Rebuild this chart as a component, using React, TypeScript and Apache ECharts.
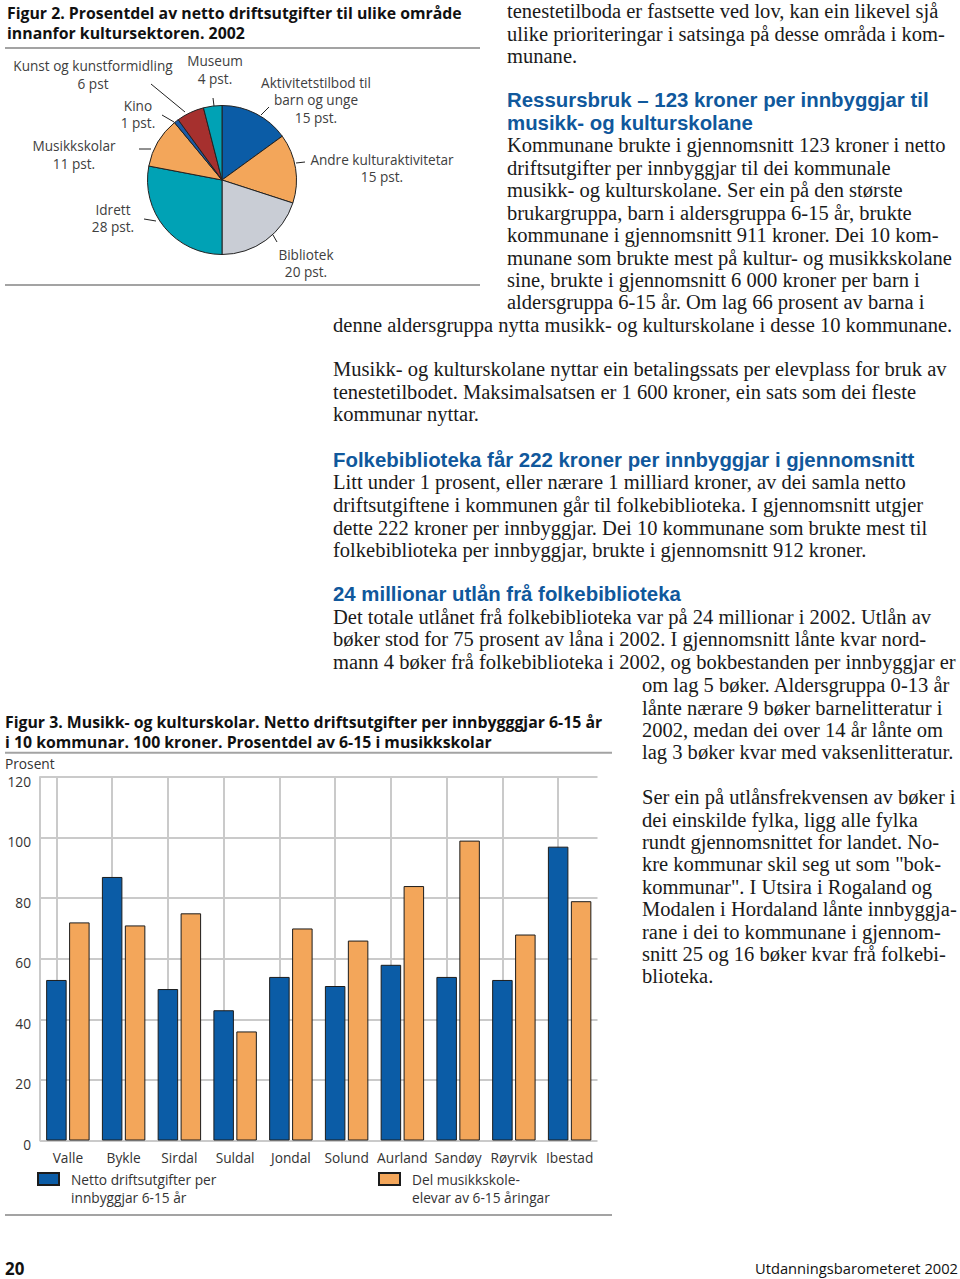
import React, { useEffect, useRef } from 'react';
import * as echarts from 'echarts';

// ---------- Figur 2 data ----------
const pieNames = [
  'Aktivitetstilbod til\nbarn og unge',
  'Andre kulturaktivitetar',
  'Bibliotek',
  'Idrett',
  'Musikkskolar',
  'Kino',
  'Kunst og kunstformidling',
  'Museum',
];
const pieValues = [15, 15, 20, 28, 11, 1, 6, 4];
const pieUnits = ['pst.', 'pst.', 'pst.', 'pst.', 'pst.', 'pst.', 'pst', 'pst.'];
const pieColors = ['#0b5ca6', '#f3a65a', '#c9cdd5', '#00a2b5', '#f3a65a', '#1a5aa6', '#a6302e', '#00a2b5'];

// ---------- Figur 3 data ----------
const municipalities = ['Valle', 'Bykle', 'Sirdal', 'Suldal', 'Jondal', 'Solund', 'Aurland', 'Sandøy', 'Røyrvik', 'Ibestad'];
const nettoDrift = [53, 87, 50, 43, 54, 51, 58, 54, 53, 97];
const delMusikk = [72, 71, 75, 36, 70, 66, 84, 99, 68, 79];
const seriesNames = ['Netto driftsutgifter per\ninnbyggjar 6-15 år', 'Del musikkskole-\nelevar av 6-15 åringar'];
const barColors = ['#0b5ca6', '#f3a65a'];
const yMin = 0;
const yMax = 120;
const yStep = 20;

// ---------- Texts ----------
const fig2Title = ['Figur 2. Prosentdel av netto driftsutgifter til ulike område', 'innanfor kultursektoren. 2002'];
const fig3Title = [
  'Figur 3. Musikk- og kulturskolar. Netto driftsutgifter per innbygggjar 6-15 år',
  'i 10 kommunar. 100 kroner. Prosentdel av 6-15 i musikkskolar',
];
const yAxisTitle = 'Prosent';
const introLines = [
  'tenestetilboda er fastsette ved lov, kan ein likevel sjå',
  'ulike prioriteringar i satsinga på desse områda i kom-',
  'munane.',
];
const heading1 = ['Ressursbruk – 123 kroner per innbyggjar til', 'musikk- og kulturskolane'];
const para1 = [
  'Kommunane brukte i gjennomsnitt 123 kroner i netto',
  'driftsutgifter per innbyggjar til dei kommunale',
  'musikk- og kulturskolane. Ser ein på den største',
  'brukargruppa, barn i aldersgruppa 6-15 år, brukte',
  'kommunane i gjennomsnitt 911 kroner. Dei 10 kom-',
  'munane som brukte mest på kultur- og musikkskolane',
  'sine, brukte i gjennomsnitt 6 000 kroner per barn i',
  'aldersgruppa 6-15 år. Om lag 66 prosent av barna i',
];
const para1Wide = ['denne aldersgruppa nytta musikk- og kulturskolane i desse 10 kommunane.'];
const para2 = [
  'Musikk- og kulturskolane nyttar ein betalingssats per elevplass for bruk av',
  'tenestetilbodet. Maksimalsatsen er 1 600 kroner, ein sats som dei fleste',
  'kommunar nyttar.',
];
const heading2 = ['Folkebiblioteka får 222 kroner per innbyggjar i gjennomsnitt'];
const para3 = [
  'Litt under 1 prosent, eller nærare 1 milliard kroner, av dei samla netto',
  'driftsutgiftene i kommunen går til folkebiblioteka. I gjennomsnitt utgjer',
  'dette 222 kroner per innbyggjar. Dei 10 kommunane som brukte mest til',
  'folkebiblioteka per innbyggjar, brukte i gjennomsnitt 912 kroner.',
];
const heading3 = ['24 millionar utlån frå folkebiblioteka'];
const para4 = [
  'Det totale utlånet frå folkebiblioteka var på 24 millionar i 2002. Utlån av',
  'bøker stod for 75 prosent av låna i 2002. I gjennomsnitt lånte kvar nord-',
  'mann 4 bøker frå folkebiblioteka i 2002, og bokbestanden per innbyggjar er',
];
const para4b = [
  'om lag 5 bøker. Aldersgruppa 0-13 år',
  'lånte nærare 9 bøker barnelitteratur i',
  '2002, medan dei over 14 år lånte om',
  'lag 3 bøker kvar med vaksenlitteratur.',
];
const para5 = [
  'Ser ein på utlånsfrekvensen av bøker i',
  'dei einskilde fylka, ligg alle fylka',
  'rundt gjennomsnittet for landet. No-',
  'kre kommunar skil seg ut som "bok-',
  'kommunar". I Utsira i Rogaland og',
  'Modalen i Hordaland lånte innbyggja-',
  'rane i dei to kommunane i gjennom-',
  'snitt 25 og 16 bøker kvar frå folkebi-',
  'blioteka.',
];
const pageNumber = '20';
const pageFooter = 'Utdanningsbarometeret 2002';

const SANS = '"Open Sans", "Noto Sans", sans-serif';
const HEAD_SANS = '"Liberation Sans", Arial, sans-serif';
const SERIF = '"Liberation Serif", "DejaVu Serif", serif';

function fitSize(weight: string, family: string, pairs: [string, number][]) {
  const ctx = document.createElement('canvas').getContext('2d');
  if (!ctx) return 16;
  let sum = 0;
  for (const [t, w] of pairs) {
    ctx.font = `${weight} 100px ${family}`;
    sum += (100 * w) / ctx.measureText(t).width;
  }
  return sum / pairs.length;
}

export default function App() {
  const ref = useRef<HTMLDivElement>(null);
  useEffect(() => {
    const el = ref.current;
    if (!el) return;
    const chart = echarts.init(el, null, { renderer: 'svg' });

    const serifSize = fitSize('normal', SERIF, [
      ['folkebiblioteka per innbyggjar, brukte i gjennomsnitt 912 kroner.', 533],
      ['denne aldersgruppa nytta musikk- og kulturskolane i desse 10 kommunane.', 620],
      ['kommunar nyttar.', 146],
    ]);
    const headSize = fitSize('bold', HEAD_SANS, [
      ['Folkebiblioteka får 222 kroner per innbyggjar i gjennomsnitt', 583],
      ['24 millionar utlån frå folkebiblioteka', 355],
      ['Ressursbruk – 123 kroner per innbyggjar til', 412],
    ]);
    const titleSize = fitSize('bold', SANS, [
      [fig2Title[0], 455],
      [fig3Title[0], 604],
      [fig2Title[1], 235],
    ]);
    const pieSize = fitSize('normal', SANS, [
      ['Kunst og kunstformidling', 160],
      ['Andre kulturaktivitetar', 142.7],
      ['Aktivitetstilbod til', 110],
    ]);
    const chartSize = fitSize('normal', SANS, [
      ['elevar av 6-15 åringar', 139],
      ['Netto driftsutgifter per', 144],
      ['Aurland', 50.7],
    ]);
    const footSize = fitSize('normal', SANS, [[pageFooter, 203]]);

    const serifFont = `normal ${serifSize.toFixed(2)}px ${SERIF}`;
    const headFont = `bold ${headSize.toFixed(2)}px ${HEAD_SANS}`;
    const titleFont = `bold ${titleSize.toFixed(2)}px ${SANS}`;

    const blocks: { lines: string[]; x: number; y: number; step: number; font: string; fill: string }[] = [
      { lines: fig2Title, x: 7, y: 12.7, step: 20.6, font: titleFont, fill: '#111' },
      { lines: fig3Title, x: 5, y: 721.5, step: 20.8, font: titleFont, fill: '#111' },
      { lines: introLines, x: 507, y: 11.5, step: 22.2, font: serifFont, fill: '#1a1a1a' },
      { lines: heading1, x: 507, y: 100, step: 22.6, font: headFont, fill: '#10589c' },
      { lines: para1, x: 507, y: 145.3, step: 22.45, font: serifFont, fill: '#1a1a1a' },
      { lines: para1Wide, x: 333, y: 325, step: 22.4, font: serifFont, fill: '#1a1a1a' },
      { lines: para2, x: 333, y: 369.5, step: 22.3, font: serifFont, fill: '#1a1a1a' },
      { lines: heading2, x: 333, y: 460, step: 22.4, font: headFont, fill: '#10589c' },
      { lines: para3, x: 333, y: 482.5, step: 22.6, font: serifFont, fill: '#1a1a1a' },
      { lines: heading3, x: 333, y: 594, step: 22.4, font: headFont, fill: '#10589c' },
      { lines: para4, x: 333, y: 617, step: 22.4, font: serifFont, fill: '#1a1a1a' },
      { lines: para4b, x: 642, y: 685.5, step: 22.3, font: serifFont, fill: '#1a1a1a' },
      { lines: para5, x: 642, y: 797.3, step: 22.4, font: serifFont, fill: '#1a1a1a' },
    ];

    const graphics: any[] = [];
    blocks.forEach((b) => {
      graphics.push({
        type: 'text',
        x: b.x,
        y: b.y - b.step / 2,
        silent: true,
        style: {
          text: b.lines.join('\n'),
          font: b.font,
          fill: b.fill,
          lineHeight: b.step,
          textAlign: 'left',
          textVerticalAlign: 'top',
        },
      });
    });
    graphics.push({
      type: 'text',
      x: 5,
      y: 763,
      silent: true,
      style: { text: yAxisTitle, font: `normal ${chartSize.toFixed(2)}px ${SANS}`, fill: '#333', textAlign: 'left', textVerticalAlign: 'middle' },
    });
    graphics.push({
      type: 'text',
      x: 5,
      y: 1268,
      silent: true,
      style: { text: pageNumber, font: `bold ${(footSize * 1.15).toFixed(2)}px ${SANS}`, fill: '#111', textAlign: 'left', textVerticalAlign: 'middle' },
    });
    graphics.push({
      type: 'text',
      x: 958,
      y: 1268,
      silent: true,
      style: { text: pageFooter, font: `normal ${footSize.toFixed(2)}px ${SANS}`, fill: '#111', textAlign: 'right', textVerticalAlign: 'middle' },
    });
    const rules = [
      { x1: 5, x2: 480, y: 48 },
      { x1: 5, x2: 480, y: 285 },
      { x1: 5, x2: 612, y: 752.7 },
      { x1: 5, x2: 612, y: 1215 },
    ];
    rules.forEach((r) => {
      graphics.push({
        type: 'rect',
        silent: true,
        shape: { x: r.x1, y: r.y - 1, width: r.x2 - r.x1, height: 2 },
        style: { fill: '#a3a3a3' },
      });
    });

    const pieLabelLayout = [
      { x: 316, y: 99.5, line: [[261, 115], [269, 107]] },
      { x: 382, y: 168, line: [[296, 163], [305, 162]] },
      { x: 306, y: 263, line: [[273, 235], [277, 242]] },
      { x: 113, y: 218, line: [[156, 221], [144, 219]] },
      { x: 74, y: 154.5, line: [[151, 149], [139, 149]] },
      { x: 138, y: 114, line: [[174, 122], [162, 115]] },
      { x: 93, y: 74.5, line: [[185, 112], [151, 84]] },
      { x: 215, y: 69.5, line: [[214, 106], [213, 98]] },
    ];

    const gridColor = '#cacaca';
    const chartTextColor = '#333';

    const option: any = {
      animation: false,
      backgroundColor: '#ffffff',
      textStyle: { fontFamily: SANS },
      grid: { left: 40, right: 362.5, top: 777, bottom: 1279 - 1140.5, containLabel: false },
      xAxis: {
        type: 'category',
        data: municipalities,
        axisLine: { show: false },
        axisTick: { show: false },
        axisLabel: { interval: 0, fontSize: chartSize, color: chartTextColor, margin: 10, fontFamily: SANS },
        splitLine: { show: false },
      },
      yAxis: {
        type: 'value',
        min: yMin,
        max: yMax,
        interval: yStep,
        axisLine: { show: true, lineStyle: { color: gridColor, width: 2 } },
        axisTick: { show: false },
        axisLabel: {
          fontSize: chartSize,
          color: chartTextColor,
          margin: 9,
          verticalAlign: 'top',
          lineHeight: 8,
          fontFamily: SANS,
        },
        splitLine: { show: true, lineStyle: { color: gridColor, width: 2 } },
      },
      legend: [0, 1].map((i) => ({
        data: [seriesNames[i]],
        left: i === 0 ? 37 : 378,
        top: 1152,
        padding: 0,
        itemWidth: 21,
        itemHeight: 12,
        icon: 'rect',
        selectedMode: false,
        formatter: (name: string) => '\n' + name,
        textStyle: {
          fontSize: chartSize,
          color: chartTextColor,
          fontFamily: SANS,
          lineHeight: 18,
          padding: [0, 0, 0, 7],
        },
      })),
      series: [
        {
          type: 'bar',
          name: seriesNames[0],
          data: nettoDrift,
          barWidth: 20.5,
          barGap: '12%',
          itemStyle: { color: barColors[0], borderColor: '#1c1c1c', borderWidth: 1 },
          silent: true,
          markLine: {
            silent: true,
            z: 1,
            symbol: 'none',
            label: { show: false },
            lineStyle: { color: gridColor, width: 2, type: 'solid' },
            data: municipalities.map((m) => ({ xAxis: m })),
          },
        },
        {
          type: 'bar',
          name: seriesNames[1],
          data: delMusikk,
          barWidth: 20.5,
          barGap: '12%',
          itemStyle: { color: barColors[1], borderColor: '#1c1c1c', borderWidth: 1 },
          silent: true,
        },
        {
          type: 'pie',
          center: [222, 180],
          radius: 74.5,
          startAngle: 90,
          clockwise: true,
          silent: true,
          data: pieNames.map((n, i) => ({ name: n, value: pieValues[i], itemStyle: { color: pieColors[i] } })),
          itemStyle: { borderColor: '#222', borderWidth: 1 },
          label: {
            show: true,
            position: 'outside',
            overflow: 'none',
            formatter: (p: any) => `${p.name}\n${p.value} ${pieUnits[p.dataIndex]}`,
            fontSize: pieSize,
            lineHeight: 17.5,
            color: '#404040',
            fontFamily: SANS,
          },
          labelLine: { show: true, length: 8, length2: 4, lineStyle: { color: '#222', width: 1 } },
          labelLayout: (p: any) => {
            const L = pieLabelLayout[p.dataIndex];
            return {
              x: L.x,
              y: L.y,
              align: 'center',
              verticalAlign: 'middle',
              labelLinePoints: [L.line[0], L.line[1], L.line[1]],
            };
          },
        },
      ],
      graphic: graphics,
    };
    chart.setOption(option);
    return () => chart.dispose();
  }, []);
  return <div ref={ref} style={{ position: 'absolute', left: 0, top: 0, width: 960, height: 1279 }} />;
}
